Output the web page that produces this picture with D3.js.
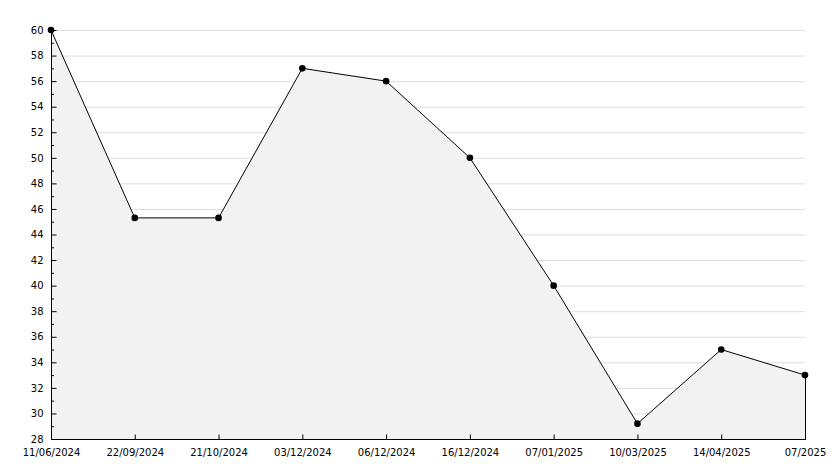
<!DOCTYPE html>
<html><head><meta charset="utf-8">
<script src="https://cdn.jsdelivr.net/npm/d3@7"></script>
<style>body{margin:0;background:#fff;}svg{display:block;font-family:"DejaVu Sans",sans-serif;}</style>
</head><body>
<svg id="c" width="834" height="468"></svg>
<script>
const categories = ["11/06/2024","22/09/2024","21/10/2024","03/12/2024","06/12/2024","16/12/2024","07/01/2025","10/03/2025","14/04/2025","07/2025"];
const values = [60, 45.3, 45.3, 57, 56, 50, 40, 29.2, 35, 33];
const yTicks = [28,30,32,34,36,38,40,42,44,46,48,50,52,54,56,58,60];
const yMinorTicks = [29,31,33,35,37,39,41,43,45,47,49,51,53,55,57,59];

const svg = d3.select("#c");
const L = 51, R = 805, T = 30, B = 439;
const x = d3.scalePoint().domain(categories).range([L, R]);
const y = d3.scaleLinear().domain([28, 60]).range([B, T]);

// grid
svg.append("g").selectAll("line").data(yTicks.filter(d => d > 28)).join("line")
  .attr("x1", L).attr("x2", R).attr("y1", d => y(d)+0.5).attr("y2", d => y(d)+0.5)
  .attr("stroke", "#dddddd").attr("stroke-width", 1);

const data = categories.map((c, i) => ({c, v: values[i]}));
// area
svg.append("path").datum(data)
  .attr("d", d3.area().x(d => x(d.c)).y0(y(28)).y1(d => y(d.v)))
  .attr("fill", "#f2f2f2");
// right edge
svg.append("line").attr("x1", R+0.5).attr("x2", R+0.5).attr("y1", y(values[values.length-1])).attr("y2", B)
  .attr("stroke", "#000");
// line
svg.append("path").datum(data)
  .attr("d", d3.line().x(d => x(d.c)).y(d => y(d.v)))
  .attr("fill", "none").attr("stroke", "#000").attr("stroke-width", 1);

// y axis
const yAxis = svg.append("g").attr("transform", `translate(${L+0.5},0)`)
  .call(d3.axisLeft(y).tickValues(yTicks).tickSize(-5).tickPadding(8));
yAxis.select(".domain").remove();
yAxis.selectAll("text").attr("font-size", 10).attr("fill", "#000").attr("font-family", "DejaVu Sans");
svg.append("g").selectAll("line").data(yMinorTicks).join("line")
  .attr("x1", L).attr("x2", L+3).attr("y1", d => y(d)+0.5).attr("y2", d => y(d)+0.5).attr("stroke", "#000");
svg.append("line").attr("x1", L+0.5).attr("x2", L+0.5).attr("y1", T).attr("y2", B+0.5).attr("stroke", "#000");

// x axis
const xAxis = svg.append("g").attr("transform", `translate(0,${B+0.5})`)
  .call(d3.axisBottom(x).tickSize(-5).tickPadding(9));
xAxis.select(".domain").remove();
xAxis.selectAll("text").attr("font-size", 10).attr("fill", "#000").attr("font-family", "DejaVu Sans");
svg.append("line").attr("x1", L).attr("x2", R+1).attr("y1", B+0.5).attr("y2", B+0.5).attr("stroke", "#000");

// markers
svg.append("g").selectAll("circle").data(data).join("circle")
  .attr("cx", d => x(d.c)).attr("cy", d => y(d.v)).attr("r", 3.3).attr("fill", "#000");
</script>
</body></html>
